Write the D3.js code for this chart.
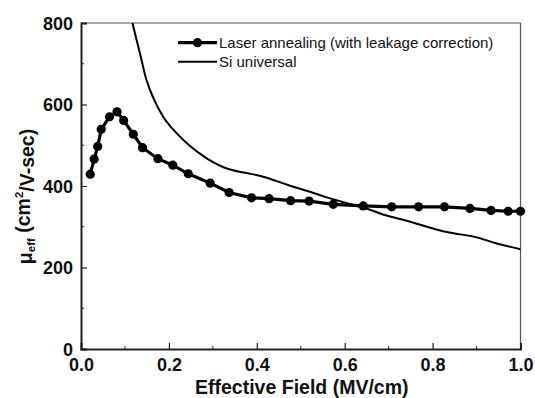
<!doctype html>
<html lang="en">
<head>
  <meta charset="utf-8">
  <script src="https://d3js.org/d3.v7.min.js"></script>
  <title>Effective mobility vs effective field</title>
  <style>
    html, body { margin: 0; padding: 0; background: #fff; }
    svg { display: block; font-family: Arial, "Liberation Sans", sans-serif; }
    .tick-label { font-size: 18px; font-weight: bold; fill: #111; }
    .axis-title { font-size: 19.5px; font-weight: bold; fill: #111; }
    .legend text { font-size: 15px; fill: #111; }
  </style>
</head>
<body>
<script>
  // laser annealing (with leakage correction) - markers
  var laserField = [0.021, 0.030, 0.038, 0.046, 0.065, 0.082, 0.097, 0.119, 0.140, 0.175, 0.209, 0.244, 0.294,
    0.337, 0.388, 0.428, 0.477, 0.519, 0.574, 0.642, 0.707, 0.768, 0.827, 0.885, 0.933, 0.972, 1.0];
  var laserMu = [429, 466, 497, 539, 570, 582, 561, 527, 494, 467, 451, 430, 407,
    384, 371, 369, 364, 363, 355, 351, 349, 349, 349, 345, 340, 338, 338];

  // Si universal curve
  var siField = [0.117, 0.134, 0.149, 0.165, 0.187, 0.218, 0.248, 0.286, 0.332, 0.370, 0.407, 0.445,
    0.483, 0.521, 0.559, 0.612, 0.650, 0.703, 0.733, 0.832, 0.900, 0.946, 1.0];
  var siMu = [800, 726, 660, 615, 570, 529, 498, 468, 443, 433, 425, 412,
    398, 386, 372, 356, 344, 325, 317, 287, 274, 259, 245];

  var xTicks = [0.0, 0.2, 0.4, 0.6, 0.8, 1.0];
  var xMinor = [0.1, 0.3, 0.5, 0.7, 0.9];
  var yTicks = [0, 200, 400, 600, 800];
  var yMinor = [100, 300, 500, 700];
  var seriesNames = ["Laser annealing (with leakage correction)", "Si universal"];

  var W = 535, H = 398;
  var margin = { top: 23, right: 14.5, bottom: 49, left: 81 },
    width = W - margin.left - margin.right,
    height = H - margin.top - margin.bottom;

  var x = d3.scaleLinear().domain([0, 1]).range([0, width]);
  var y = d3.scaleLinear().domain([0, 800]).range([height, 0]);

  var svg = d3.select("body").append("svg")
    .attr("width", W)
    .attr("height", H)
    .append("g")
    .attr("transform", "translate(" + margin.left + "," + margin.top + ")");

  // clip so the Si curve doesn't poke above the frame
  svg.append("clipPath").attr("id", "plotclip")
    .append("rect").attr("width", width).attr("height", height);

  // top and right frame
  svg.append("path")
    .attr("d", "M0,0H" + width + "V" + height)
    .attr("fill", "none")
    .attr("stroke", "#555")
    .attr("stroke-width", 1.2);

  // bottom axis, ticks inside
  var xAxis = svg.append("g")
    .attr("transform", "translate(0," + height + ")")
    .call(d3.axisBottom(x).tickValues(xTicks).tickSize(-6).tickPadding(5).tickFormat(d3.format(".1f")));
  xAxis.selectAll(".tick text").attr("class", "tick-label").attr("dy", "0.95em");
  xAxis.append("g").selectAll("line")
    .data(xMinor).enter().append("line")
    .attr("x1", function(d) { return x(d); })
    .attr("x2", function(d) { return x(d); })
    .attr("y1", 0).attr("y2", -3)
    .attr("stroke", "#222");

  // left axis
  var yAxis = svg.append("g")
    .call(d3.axisLeft(y).tickValues(yTicks).tickSize(-6).tickPadding(8).tickFormat(d3.format("d")));
  yAxis.selectAll(".tick text").attr("class", "tick-label").attr("dy", "0.36em");
  yAxis.append("g").selectAll("line")
    .data(yMinor).enter().append("line")
    .attr("y1", function(d) { return y(d); })
    .attr("y2", function(d) { return y(d); })
    .attr("x1", 0).attr("x2", 3)
    .attr("stroke", "#222");

  svg.selectAll(".domain").attr("stroke", "#222").attr("stroke-width", 2);
  svg.selectAll(".tick line").attr("stroke", "#222").attr("stroke-width", 1.2);

  var plot = svg.append("g").attr("clip-path", "url(#plotclip)");

  // Si universal
  var siLine = d3.line()
    .curve(d3.curveMonotoneX)
    .x(function(d, i) { return x(siField[i]); })
    .y(function(d) { return y(d); });
  plot.append("path")
    .datum(siMu)
    .attr("d", siLine)
    .attr("fill", "none")
    .attr("stroke", "#000")
    .attr("stroke-width", 2);

  // laser annealing
  var laserLine = d3.line()
    .x(function(d, i) { return x(laserField[i]); })
    .y(function(d) { return y(d); });
  svg.append("path")
    .datum(laserMu)
    .attr("d", laserLine)
    .attr("fill", "none")
    .attr("stroke", "#000")
    .attr("stroke-width", 3.2);
  svg.append("g").selectAll("circle")
    .data(laserMu).enter().append("circle")
    .attr("cx", function(d, i) { return x(laserField[i]); })
    .attr("cy", function(d) { return y(d); })
    .attr("r", 4.6)
    .attr("fill", "#000");

  // legend
  var legend = svg.append("g").attr("class", "legend")
    .attr("transform", "translate(97,0)");
  var rowY = [19.7, 38.7];
  legend.append("line")
    .attr("x1", 0).attr("x2", 39).attr("y1", rowY[0]).attr("y2", rowY[0])
    .attr("stroke", "#000").attr("stroke-width", 3.2);
  legend.append("circle")
    .attr("cx", 19.5).attr("cy", rowY[0]).attr("r", 4.6).attr("fill", "#000");
  legend.append("line")
    .attr("x1", 0).attr("x2", 39).attr("y1", rowY[1]).attr("y2", rowY[1])
    .attr("stroke", "#000").attr("stroke-width", 2);
  legend.selectAll("text")
    .data(seriesNames).enter().append("text")
    .attr("x", 41)
    .attr("y", function(d, i) { return rowY[i]; })
    .attr("dy", "0.36em")
    .text(function(d) { return d; });

  // x-axis title
  svg.append("text")
    .attr("class", "axis-title")
    .attr("text-anchor", "middle")
    .attr("x", width / 2 + 1)
    .attr("y", height + 45)
    .text("Effective Field (MV/cm)");

  // y-axis title with sub/superscripts
  var yt = svg.append("text")
    .attr("class", "axis-title")
    .attr("text-anchor", "middle")
    .attr("transform", "translate(" + (32 - margin.left) + "," + (196.5 - margin.top) + ") rotate(-90)");
  yt.append("tspan").text("\u03bc");
  yt.append("tspan").attr("dy", "0.3em").style("font-size", "11.5px").text("eff");
  yt.append("tspan").attr("dy", "-0.3em").text(" (cm");
  yt.append("tspan").attr("dy", "-0.55em").style("font-size", "11.5px").text("2");
  yt.append("tspan").attr("dy", "0.55em").text("/V-sec)");
</script>
</body>
</html>
